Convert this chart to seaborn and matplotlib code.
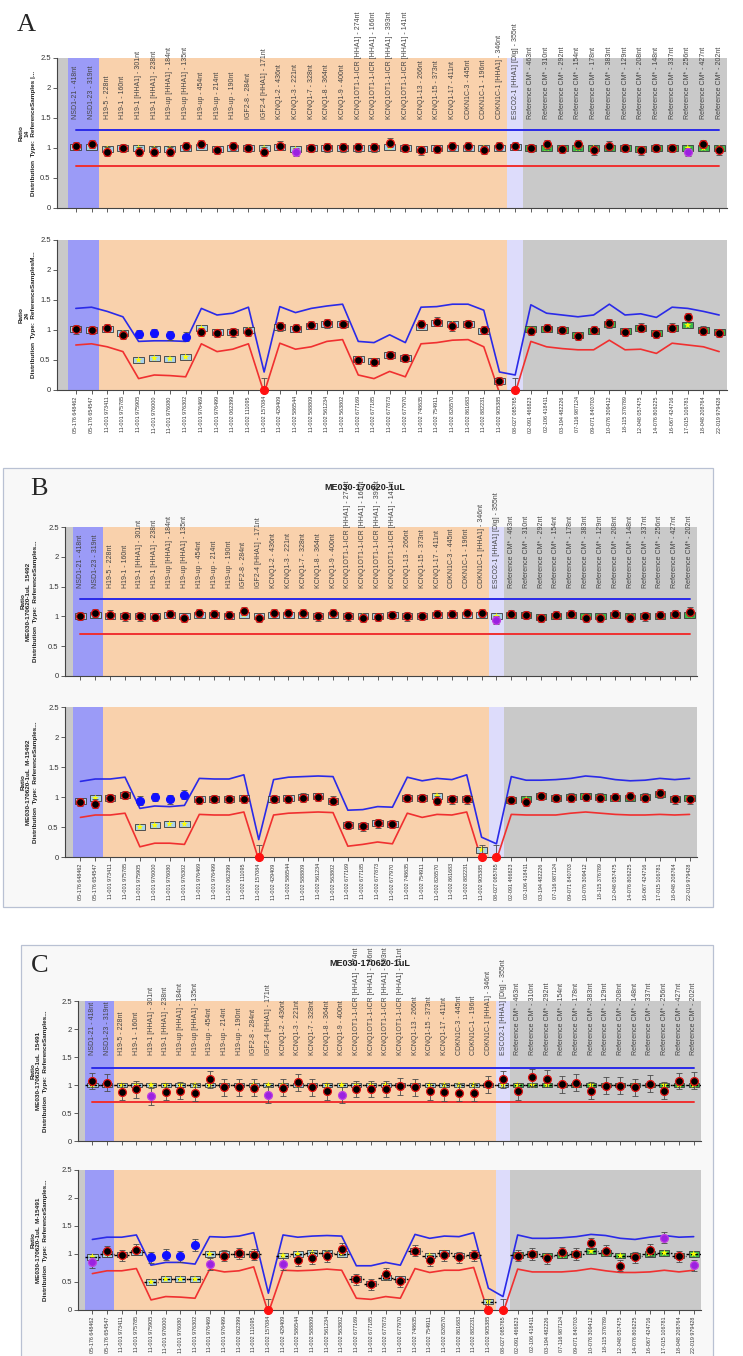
import numpy as np
import pandas as pd
import matplotlib
matplotlib.use("Agg")
import matplotlib.pyplot as plt
import seaborn as sns
from matplotlib.patches import Rectangle

# ---------------- data ----------------
probe_names = [
    "NSD1-21 - 418nt", "NSD1-23 - 319nt", "H19-5 - 228nt", "H19-1 - 160nt",
    "H19-1 [HHA1] - 301nt", "H19-1 [HHA1] - 238nt", "H19-up [HHA1] - 184nt",
    "H19-up [HHA1] - 135nt", "H19-up - 454nt", "H19-up - 214nt", "H19-up - 190nt",
    "IGF2-8 - 284nt", "IGF2-4 [HHA1] - 171nt", "KCNQ1-2 - 436nt", "KCNQ1-3 - 221nt",
    "KCNQ1-7 - 328nt", "KCNQ1-8 - 364nt", "KCNQ1-9 - 400nt",
    "KCNQ1OT1-1-ICR [HHA1] - 274nt", "KCNQ1OT1-1-ICR [HHA1] - 166nt",
    "KCNQ1OT1-1-ICR [HHA1] - 393nt", "KCNQ1OT1-1-ICR [HHA1] - 141nt",
    "KCNQ1-13 - 266nt", "KCNQ1-15 - 373nt", "KCNQ1-17 - 411nt", "CDKN1C-3 - 445nt",
    "CDKN1C-1 - 196nt", "CDKN1C-1 [HHA1] - 346nt", "ESCO2-1 [HHA1] [Dig] - 355nt",
    "Reference CM* - 463nt", "Reference CM* - 310nt", "Reference CM* - 292nt",
    "Reference CM* - 154nt", "Reference CM* - 178nt", "Reference CM* - 383nt",
    "Reference CM* - 129nt", "Reference CM* - 208nt", "Reference CM* - 148nt",
    "Reference CM* - 337nt", "Reference CM* - 256nt", "Reference CM* - 427nt",
    "Reference CM* - 202nt",
]
positions = [
    "05-176 648462", "05-176 654547", "11-001 973411", "11-001 975785", "11-001 975905",
    "11-001 976000", "11-001 976080", "11-001 976302", "11-001 976469", "11-001 976499",
    "11-002 062399", "11-002 111095", "11-002 157084", "11-002 429409", "11-002 586544",
    "11-002 588809", "11-002 561234", "11-002 563802", "11-002 677169", "11-002 677185",
    "11-002 677873", "11-002 677970", "11-002 748635", "11-002 754911", "11-002 826570",
    "11-002 861683", "11-002 882231", "11-002 905385", "08-027 085765", "02-091 466823",
    "02-106 418411", "03-194 482226", "07-116 987124", "09-071 840703", "10-076 309412",
    "18-115 376789", "12-048 057475", "14-076 806225", "16-067 424716", "17-015 106781",
    "18-048 208764", "22-019 979428",
]
region_bounds = [-0.5, 1.5, 27.5, 28.5, 41.5]

# Panel A
a_top_sample = [1.03, 1.07, 0.94, 1.0, 0.94, 0.94, 0.94, 1.03, 1.07, 0.97, 1.03, 1.0, 0.94, 1.04,
                0.93, 1.0, 1.01, 1.01, 1.01, 1.01, 1.09, 1.0, 0.96, 0.98, 1.03, 1.03, 0.97, 1.03,
                1.03, 1.0, 1.06, 0.98, 1.06, 0.96, 1.04, 1.0, 0.96, 1.0, 1.0, 0.93, 1.07, 0.96]
a_top_kind = "nnnnnnnnnnnnnnpnnnnnnnnnnnnnnnnnnnnnnnnpnn"
a_top_box = [1.02, 1.02, 0.99, 1.0, 1.0, 0.99, 0.99, 1.0, 1.02, 0.99, 1.0, 1.0, 1.0, 1.02,
             0.98, 1.0, 1.0, 1.0, 1.0, 1.0, 1.02, 1.0, 0.99, 1.0, 1.0, 1.0, 1.0, 1.0,
             1.02, 1.0, 1.0, 1.0, 1.0, 1.0, 1.0, 1.0, 0.98, 1.0, 1.0, 1.0, 1.0, 1.0]
a_bot_sample = [1.01, 1.0, 1.03, 0.92, 0.93, 0.95, 0.91, 0.89, 0.97, 0.95, 0.96, 0.97, 0.0, 1.06,
                1.03, 1.08, 1.11, 1.1, 0.5, 0.47, 0.58, 0.53, 1.1, 1.14, 1.06, 1.1, 1.0, 0.15,
                0.0, 0.99, 1.03, 1.0, 0.9, 1.0, 1.11, 0.97, 1.04, 0.93, 1.04, 1.21, 0.99, 0.95]
a_bot_kind = "nnnnbbbbnnnnrnnnnnnnnnnnnnnnrnnnnnnnnnnnnn"
a_bot_box = [1.02, 1.0, 1.02, 0.95, 0.5, 0.53, 0.52, 0.55, 1.03, 0.97, 0.97, 1.0, np.nan, 1.05,
             1.02, 1.07, 1.1, 1.1, 0.52, 0.49, 0.58, 0.53, 1.05, 1.12, 1.1, 1.1, 0.99, 0.15,
             np.nan, 1.02, 1.02, 1.0, 0.92, 0.98, 1.1, 0.98, 1.04, 0.95, 1.04, 1.08, 1.0, 0.97]
a_bot_upper = [1.36, 1.38, 1.31, 1.22, 0.81, 0.82, 0.82, 0.81, 1.36, 1.25, 1.28, 1.38, 0.30, 1.39,
               1.29, 1.36, 1.40, 1.43, 0.81, 0.79, 0.92, 0.79, 1.38, 1.39, 1.43, 1.43, 1.33, 0.30,
               0.25, 1.42, 1.28, 1.25, 1.22, 1.25, 1.43, 1.25, 1.27, 1.21, 1.38, 1.36, 1.31, 1.25]
a_bot_lower = [0.75, 0.77, 0.72, 0.64, 0.19, 0.25, 0.24, 0.22, 0.77, 0.64, 0.68, 0.77, -0.05, 0.78,
               0.68, 0.72, 0.81, 0.84, 0.25, 0.19, 0.31, 0.22, 0.77, 0.79, 0.83, 0.84, 0.72, -0.05,
               -0.05, 0.81, 0.72, 0.69, 0.67, 0.67, 0.83, 0.67, 0.68, 0.61, 0.78, 0.75, 0.72, 0.64]

# Panel B
b_top_sample = [1.01, 1.06, 1.03, 1.0, 1.0, 0.99, 1.04, 0.98, 1.06, 1.04, 1.02, 1.09, 0.98, 1.05,
                1.05, 1.05, 1.0, 1.05, 1.0, 0.97, 0.99, 1.02, 1.0, 1.01, 1.04, 1.04, 1.05, 1.06,
                0.94, 1.04, 1.02, 0.97, 1.02, 1.04, 0.98, 0.98, 1.04, 0.97, 1.0, 1.02, 1.04, 1.08]
b_top_kind = "nnnnnnnnnnnnnnnnnnnnnnnnnnnnpnnnnnnnnnnnnn"
b_top_box = [1.0, 1.02, 1.01, 1.0, 1.0, 1.0, 1.02, 1.0, 1.02, 1.02, 1.0, 1.03, 1.0, 1.02,
             1.02, 1.02, 1.0, 1.02, 1.0, 1.0, 1.0, 1.02, 1.0, 1.0, 1.02, 1.02, 1.03, 1.03,
             1.0, 1.02, 1.02, 0.99, 1.01, 1.02, 1.0, 1.0, 1.02, 1.0, 1.0, 1.01, 1.02, 1.03]
b_bot_sample = [0.92, 0.89, 0.98, 1.03, 0.94, 1.0, 0.96, 1.04, 0.95, 0.97, 0.97, 0.97, 0.0, 0.97,
                0.97, 0.99, 1.0, 0.94, 0.53, 0.51, 0.56, 0.55, 0.98, 0.98, 0.94, 0.96, 0.96, 0.0,
                0.0, 0.95, 0.92, 1.02, 0.98, 0.99, 1.0, 0.99, 1.0, 1.02, 0.99, 1.06, 0.96, 0.96]
b_bot_kind = "nnnnbbbbnnnnrnnnnnnnnnnnnnnrrnnnnnnnnnnnnn"
b_bot_box = [0.93, 0.98, 0.98, 1.03, 0.5, 0.53, 0.55, 0.55, 0.97, 0.97, 0.97, 0.99, np.nan, 0.97,
             0.98, 1.0, 1.02, 0.94, 0.53, 0.51, 0.56, 0.55, 0.98, 0.98, 1.02, 0.96, 0.96, 0.12,
             np.nan, 0.95, 0.96, 1.02, 0.98, 1.0, 1.02, 1.0, 0.98, 0.98, 1.0, 1.05, 0.97, 0.98]
b_bot_upper = [1.26, 1.30, 1.30, 1.33, 0.81, 0.85, 0.84, 0.86, 1.31, 1.30, 1.30, 1.37, 0.29, 1.29,
               1.33, 1.34, 1.35, 1.34, 0.78, 0.79, 0.84, 0.83, 1.33, 1.27, 1.31, 1.29, 1.37, 0.33,
               0.22, 1.34, 1.28, 1.28, 1.29, 1.31, 1.35, 1.33, 1.29, 1.27, 1.28, 1.31, 1.29, 1.31]
b_bot_lower = [0.66, 0.70, 0.70, 0.73, 0.17, 0.23, 0.23, 0.21, 0.71, 0.70, 0.70, 0.75, -0.05, 0.70,
               0.73, 0.74, 0.75, 0.74, 0.18, 0.21, 0.25, 0.22, 0.73, 0.66, 0.71, 0.70, 0.75, -0.05,
               -0.05, 0.71, 0.70, 0.70, 0.70, 0.73, 0.75, 0.73, 0.71, 0.70, 0.70, 0.71, 0.70, 0.71]

# Panel C
c_top_sample = [1.07, 1.04, 0.88, 0.92, 0.8, 0.88, 0.9, 0.86, 1.1, 0.96, 0.96, 0.95, 0.83, 0.95,
                1.05, 0.96, 0.89, 0.82, 0.93, 0.93, 0.93, 0.98, 0.96, 0.89, 0.87, 0.86, 0.86, 1.01,
                1.1, 0.89, 1.14, 1.11, 1.01, 1.04, 0.9, 0.99, 0.99, 0.96, 1.02, 0.9, 1.07, 1.08]
c_top_kind = "nnnnpnnnnnnnpnnnnpnnnnnnnnnnnnnnnnnnnnnnnn"
c_top_box = [1.0] * 42
c_bot_sample = [0.85, 1.05, 0.98, 1.08, 0.94, 0.99, 0.96, 1.16, 0.82, 0.97, 1.01, 0.99, 0.0, 0.82,
                0.89, 0.93, 0.96, 1.09, 0.55, 0.46, 0.65, 0.51, 1.06, 0.89, 0.98, 0.94, 0.98, 0.0,
                0.0, 0.97, 1.0, 0.92, 1.03, 1.0, 1.19, 1.06, 0.79, 0.94, 1.07, 1.29, 0.96, 0.8]
c_bot_kind = "pnnnbbbbpnnnrpnnnnnnnnnnnnnrrnnnnnnnnnnpnp"
c_bot_box = [0.95, 1.0, 0.99, 1.03, 0.5, 0.55, 0.55, 0.55, 1.0, 1.0, 1.0, 1.0, np.nan, 0.97,
             1.0, 1.02, 1.02, 1.0, 0.55, 0.47, 0.58, 0.55, 1.05, 0.97, 1.02, 0.97, 0.98, 0.15,
             np.nan, 0.98, 1.0, 0.97, 0.98, 1.0, 1.05, 1.02, 0.97, 0.97, 1.0, 1.02, 0.97, 1.0]
c_bot_upper = [1.26, 1.30, 1.30, 1.34, 0.80, 0.85, 0.85, 0.82, 1.31, 1.30, 1.32, 1.38, 0.30, 1.34,
               1.30, 1.32, 1.33, 1.32, 0.79, 0.79, 0.85, 0.80, 1.35, 1.28, 1.32, 1.31, 1.38, 0.39,
               0.24, 1.34, 1.28, 1.28, 1.29, 1.31, 1.35, 1.33, 1.28, 1.26, 1.30, 1.33, 1.30, 1.31]
c_bot_lower = [0.65, 0.70, 0.70, 0.74, 0.18, 0.24, 0.23, 0.21, 0.73, 0.68, 0.70, 0.77, -0.05, 0.71,
               0.70, 0.71, 0.73, 0.71, 0.21, 0.19, 0.24, 0.21, 0.74, 0.67, 0.71, 0.71, 0.76, -0.05,
               -0.05, 0.73, 0.68, 0.68, 0.68, 0.70, 0.74, 0.70, 0.67, 0.67, 0.68, 0.71, 0.68, 0.71]

top_upper, top_lower = 1.3, 0.7
panel_title = "ME030-170620-1uL"

# ---------------- style ----------------
sns.set_theme(style="white")
plt.rcParams["font.family"] = ["Liberation Sans", "DejaVu Sans"]

W, H = 743, 1356
fig = plt.figure(figsize=(W / 100, H / 100), dpi=100)

BAND_COLORS = ["#9b9bf7", "#f9d1ac", "#dddcfb", "#c9c9c9"]
KIND_FACE = {"n": "black", "b": "#1010ff", "p": "#9a22e0", "r": "#ff1010"}
KIND_EDGE = {"n": "#e01010", "b": "#1010ff", "p": "#c040e0", "r": "#ff1010"}


def px_axes(x0, x1, y0, y1):
    return fig.add_axes([x0 / W, 1 - y1 / H, (x1 - x0) / W, (y1 - y0) / H])


def frame(x0, x1, y0, y1):
    fig.add_artist(Rectangle((x0 / W, 1 - y1 / H), (x1 - x0) / W, (y1 - y0) / H,
                             transform=fig.transFigure, facecolor="#f8f8f8",
                             edgecolor="#b9c1d3", lw=0.9, zorder=-10))


def draw(ax, xlim, sample, kind, box_mid, box_half, upper, lower, err, label_base,
         top=True, dashed=False):
    idx = np.arange(42)
    sample = np.asarray(sample, float)
    box_mid = np.asarray(box_mid, float)
    kinds = np.array(list(kind))
    ax.set_facecolor("#c9c9c9")
    for k in range(4):
        ax.axvspan(region_bounds[k], region_bounds[k + 1], color=BAND_COLORS[k], lw=0, zorder=0)
    ax.set_xlim(*xlim)
    ax.set_ylim(0, 2.5)

    # thresholds
    if top:
        sns.lineplot(x=[0, 41], y=[upper, upper], ax=ax, color="#2a2ae8", lw=1.4, zorder=2)
        sns.lineplot(x=[0, 41], y=[lower, lower], ax=ax, color="#f03030", lw=1.4, zorder=2)
    else:
        sns.lineplot(x=idx, y=upper, ax=ax, color="#2a2ae8", lw=1.2, zorder=2)
        sns.lineplot(x=idx, y=lower, ax=ax, color="#f03030", lw=1.2, zorder=2)

    # reference boxes
    ok = ~np.isnan(box_mid)
    cols = np.where(idx <= 28, "#a8d2ea", "#3db84c")
    ax.bar(idx[ok], 2 * box_half, bottom=box_mid[ok] - box_half, width=0.7,
           color=cols[ok], edgecolor="#3a3a3a", lw=0.6, zorder=3)
    if dashed:
        ax.hlines(box_mid[ok], idx[ok] - 0.5, idx[ok] + 0.5, colors="black",
                  linestyles=(0, (2, 1.2)), lw=1.0, zorder=4)
    sns.scatterplot(x=idx[ok], y=box_mid[ok], ax=ax, marker="*", color="#ffff00",
                    s=28, edgecolor="none", zorder=4, legend=False)

    # error bars
    errs = np.where(kinds == "r", 0.2, err)
    ax.errorbar(idx, sample, yerr=errs, fmt="none", ecolor="#4a4a4a", elinewidth=0.6,
                capsize=2.2, capthick=0.6, zorder=4)

    # samples
    for k in "nbpr":
        m = kinds == k
        if m.any():
            sns.scatterplot(x=idx[m], y=sample[m], ax=ax, color=KIND_FACE[k],
                            edgecolor=KIND_EDGE[k], linewidth=0.9, s=32, zorder=5,
                            legend=False, clip_on=False)

    # axes decoration
    for s in ["top", "right"]:
        ax.spines[s].set_visible(False)
    for s in ["left", "bottom"]:
        ax.spines[s].set_color("#444444")
        ax.spines[s].set_linewidth(0.8)
    ax.set_yticks([0, 0.5, 1, 1.5, 2, 2.5])
    ax.set_yticklabels(["0", "0.5", "1", "1.5", "2", "2.5"], fontsize=5.5, color="#333333")
    ax.set_xticks(idx)
    ax.tick_params(axis="both", direction="out", length=3, width=0.6, color="#444444",
                   left=True, bottom=True, pad=1.5)
    if top:
        ax.set_xticklabels([])
        for i, nm in enumerate(probe_names):
            ax.text(i, label_base, nm, rotation=90, ha="center", va="bottom",
                    fontsize=5.0, color="#444444", clip_on=False, zorder=6)
    else:
        ax.set_xticklabels(positions, rotation=90, fontsize=3.9, color="#333333")
    ax.set_xlabel("")
    ax.set_ylabel("")


def ylab(x, y0, y1, text):
    fig.text(x / W, 1 - (y0 + y1) / 2 / H, text, rotation=90, ha="center", va="center",
             fontsize=4.6, fontweight="bold", linespacing=1.25, multialignment="center",
             color="#222222")


# panel frames (B, C)
frame(3, 713, 468, 907)
frame(21, 713, 945, 1360)

# ---------- Panel A ----------
axA1 = px_axes(57, 727, 58, 208)
draw(axA1, (-1.2, 41.5), a_top_sample, a_top_kind, a_top_box, 0.05, top_upper, top_lower,
     0.07, 1.48, top=True)
axA2 = px_axes(57, 727, 240, 390)
draw(axA2, (-1.2, 41.5), a_bot_sample, a_bot_kind, a_bot_box, 0.05, a_bot_upper, a_bot_lower,
     0.07, 0, top=False)
ylab(27, 58, 208, "Ratio\n14\nDistribution  Type:  ReferenceSamples |...")
ylab(27, 240, 390, "Ratio\n24\nDistribution  Type:  ReferenceSamplesM...")
fig.text(26 / W, 1 - 25 / H, "A", fontsize=19, family="Liberation Serif", ha="center", va="center")

# ---------- Panel B ----------
axB1 = px_axes(65, 697, 527, 676)
draw(axB1, (-1.04, 41.5), b_top_sample, b_top_kind, b_top_box, 0.05, top_upper, top_lower,
     0.07, 1.47, top=True)
axB2 = px_axes(65, 697, 707, 857)
draw(axB2, (-1.04, 41.5), b_bot_sample, b_bot_kind, b_bot_box, 0.05, b_bot_upper, b_bot_lower,
     0.07, 0, top=False)
ylab(29, 527, 676, "Ratio\nME030-170620-1uL  15492\nDistribution  Type:  ReferenceSamples...")
ylab(29, 707, 857, "Ratio\nME030-170620-1uL  M-15492\nDistribution  Type:  ReferenceSamples...")
fig.text(39 / W, 1 - 489 / H, "B", fontsize=19, family="Liberation Serif", ha="center", va="center")
fig.text(365 / W, 1 - 487 / H, panel_title, fontsize=6.5, fontweight="bold", ha="center",
         va="center", color="#222222")

# ---------- Panel C ----------
axC1 = px_axes(78, 701, 1001, 1141)
draw(axC1, (-0.98, 41.5), c_top_sample, c_top_kind, c_top_box, 0.04, top_upper, top_lower,
     0.15, 1.53, top=True, dashed=True)
axC2 = px_axes(78, 701, 1170, 1310)
draw(axC2, (-0.98, 41.5), c_bot_sample, c_bot_kind, c_bot_box, 0.05, c_bot_upper, c_bot_lower,
     0.1, 0, top=False, dashed=True)
ylab(39, 1001, 1141, "Ratio\nME030-170620-1uL  15491\nDistribution  Type:  ReferenceSamples...")
ylab(39, 1170, 1310, "Ratio\nME030-170620-1uL  M-15491\nDistribution  Type:  ReferenceSamples...")
fig.text(40 / W, 1 - 966 / H, "C", fontsize=19, family="Liberation Serif", ha="center", va="center")
fig.text(370 / W, 1 - 964 / H, panel_title, fontsize=6.5, fontweight="bold", ha="center",
         va="center", color="#222222")

fig.savefig("out.png", dpi=100, facecolor="white")
